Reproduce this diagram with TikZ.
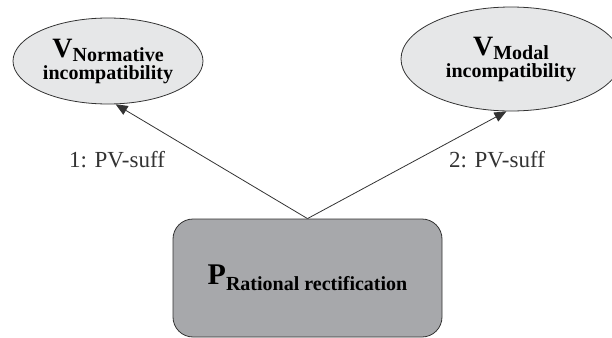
\documentclass[tikz,border=0pt]{standalone}
\usepackage{fontspec}
\setmainfont{Liberation Serif}
\usetikzlibrary{shapes.geometric,arrows.meta}
\definecolor{ovalgris}{HTML}{E6E7E8}
\definecolor{boitegris}{HTML}{A7A8AB}
\definecolor{traitgris}{HTML}{333333}
\begin{document}
\begin{tikzpicture}[x=0.5pt,y=-0.5pt]
\tikzset{ovale/.style={draw=traitgris, ellipse, fill=ovalgris, inner sep=0pt, align=center, font=\bfseries\fontsize{10}{11}\selectfont},
  boite/.style={draw=traitgris, fill=boitegris, rounded corners=10pt, minimum width=134.5pt, minimum height=59pt, font=\bfseries\fontsize{10}{11}\selectfont},
  fleche/.style={draw=traitgris, -{Triangle[length=6pt,width=5pt]}},
  etiq/.style={font=\fontsize{11.5}{12}\selectfont, text=traitgris}}
\clip (0, 0) rectangle (612, 338);
\node[ovale, minimum width=95pt, minimum height=43pt] (VN) at (108, 61) {{\fontsize{14}{14}\selectfont V}\raisebox{-0.5ex}{Normative}\\incompatibility};
\node[ovale, minimum width=110pt, minimum height=52pt] (VM) at (511, 59) {{\fontsize{14}{14}\selectfont V}\raisebox{-0.5ex}{Modal}\\incompatibility};
\node[boite] (PR) at (307.5, 278) {{\fontsize{15}{15}\selectfont P}\raisebox{-0.7ex}{Rational rectification}};
\node[etiq] (L1) at (117, 160) {1: PV-suff};
\node[etiq] (L2) at (497, 160) {2: PV-suff};
\draw[fleche] (PR.north) -- (VN.280);
\draw[fleche] (PR.north) -- (VM.265);
\end{tikzpicture}
\end{document}
